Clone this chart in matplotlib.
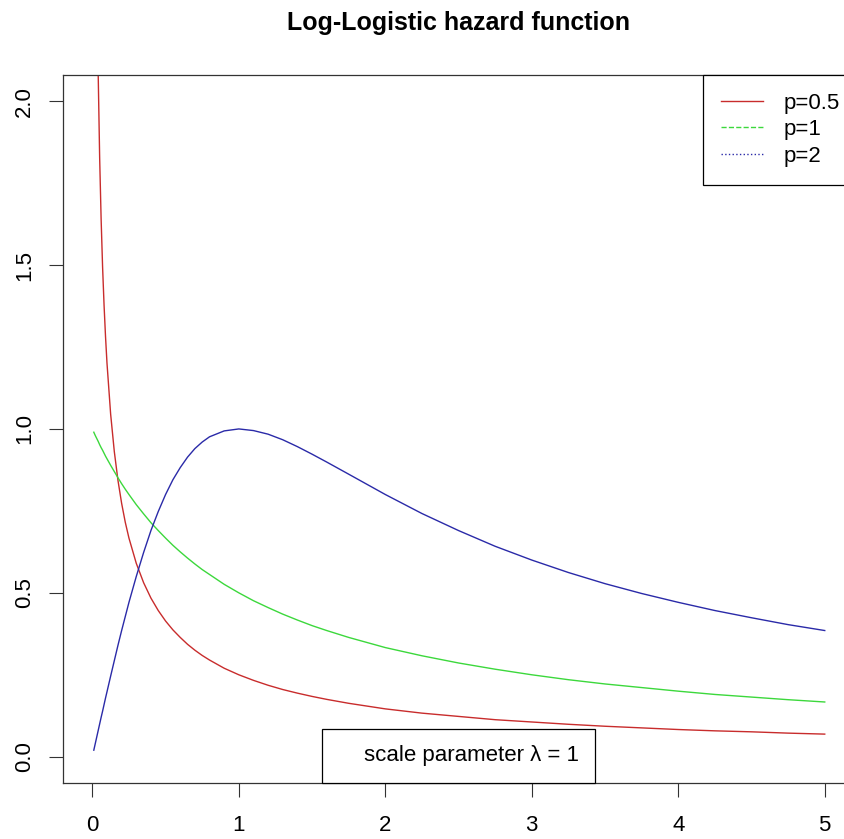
import matplotlib.pyplot as plt
from matplotlib.lines import Line2D

plt.rcParams['font.family'] = ['Liberation Sans', 'DejaVu Sans']

# time points and hazard values (scale parameter = 1)
t = [0.01, 0.02, 0.03, 0.04, 0.05, 0.06, 0.07, 0.08, 0.09, 0.1,
     0.125, 0.15, 0.175, 0.2, 0.225, 0.25, 0.3, 0.35, 0.4, 0.45,
     0.5, 0.55, 0.6, 0.65, 0.7, 0.75, 0.8, 0.9, 1.0, 1.1,
     1.2, 1.3, 1.4, 1.5, 1.6, 1.75, 2.0, 2.25, 2.5, 2.75,
     3.0, 3.25, 3.5, 3.75, 4.0, 4.25, 4.5, 4.75, 5.0]
h_p05 = [4.545, 3.097, 2.461, 2.083, 1.827, 1.640, 1.494, 1.378, 1.282, 1.201,
         1.045, 0.931, 0.843, 0.773, 0.715, 0.667, 0.590, 0.531, 0.484, 0.446,
         0.414, 0.387, 0.364, 0.343, 0.325, 0.309, 0.295, 0.270, 0.250, 0.233,
         0.218, 0.205, 0.194, 0.184, 0.175, 0.163, 0.146, 0.133, 0.123, 0.113,
         0.106, 0.099, 0.093, 0.088, 0.083, 0.079, 0.076, 0.072, 0.069]
h_p1 = [0.990, 0.980, 0.971, 0.962, 0.952, 0.943, 0.935, 0.926, 0.917, 0.909,
        0.889, 0.870, 0.851, 0.833, 0.816, 0.800, 0.769, 0.741, 0.714, 0.690,
        0.667, 0.645, 0.625, 0.606, 0.588, 0.571, 0.556, 0.526, 0.500, 0.476,
        0.455, 0.435, 0.417, 0.400, 0.385, 0.364, 0.333, 0.308, 0.286, 0.267,
        0.250, 0.235, 0.222, 0.211, 0.200, 0.190, 0.182, 0.174, 0.167]
h_p2 = [0.020, 0.040, 0.060, 0.080, 0.100, 0.120, 0.139, 0.159, 0.179, 0.198,
        0.246, 0.293, 0.340, 0.385, 0.428, 0.471, 0.550, 0.623, 0.690, 0.748,
        0.800, 0.845, 0.882, 0.914, 0.940, 0.960, 0.976, 0.994, 1.000, 0.995,
        0.984, 0.967, 0.946, 0.923, 0.899, 0.862, 0.800, 0.742, 0.690, 0.642,
        0.600, 0.562, 0.528, 0.498, 0.471, 0.446, 0.424, 0.403, 0.385]

labels = ['p=0.5', 'p=1', 'p=2']
colors = ['#c82c2c', '#3cd83c', '#2a2aa8']
styles = ['-', '--', ':']

fig = plt.figure(figsize=(8.45, 8.39), dpi=100)
ax = fig.add_axes([0.0746, 0.0668, 0.9361, 0.8439])

for y, c in zip([h_p05, h_p1, h_p2], colors):
    ax.plot(t, y, color=c, lw=1.0)

ax.set_xlim(-0.2, 5.2)
ax.set_ylim(-0.08, 2.08)
ax.set_xticks([0, 1, 2, 3, 4, 5])
ax.set_yticks([0.0, 0.5, 1.0, 1.5, 2.0])
ax.set_yticklabels(['0.0', '0.5', '1.0', '1.5', '2.0'], rotation=90, va='center')
ax.tick_params(axis='both', length=10, width=0.8, labelsize=16, color='#333333')
ax.tick_params(axis='x', pad=13)
ax.tick_params(axis='y', pad=10)
for s in ax.spines.values():
    s.set_linewidth(0.9)
    s.set_color('#333333')

ax.set_title('Log-Logistic hazard function', fontsize=18, fontweight='bold', pad=32)

# legend box sticks out past the right edge like in the original
handles = [Line2D([], [], color=c, ls=s, lw=1.0) for c, s in zip(colors, styles)]
leg = ax.legend(handles, labels, loc='upper right', bbox_to_anchor=(1.005, 1.0),
                fontsize=16, frameon=True, fancybox=False, edgecolor='black',
                framealpha=1, borderaxespad=0, borderpad=0.8, labelspacing=0.25,
                handlelength=1.9, handletextpad=0.95)
leg.get_frame().set_linewidth(0.9)
ax.add_artist(leg)

blank = Line2D([], [], color='none')
leg2 = ax.legend([blank], ['scale parameter \u03bb = 1'], loc='lower center',
                 fontsize=16, frameon=True, fancybox=False, edgecolor='black',
                 framealpha=1, borderaxespad=0, borderpad=0.75,
                 handlelength=0.45, handletextpad=0.7)
leg2.get_frame().set_linewidth(0.9)

fig.savefig('out.png', dpi=100)
